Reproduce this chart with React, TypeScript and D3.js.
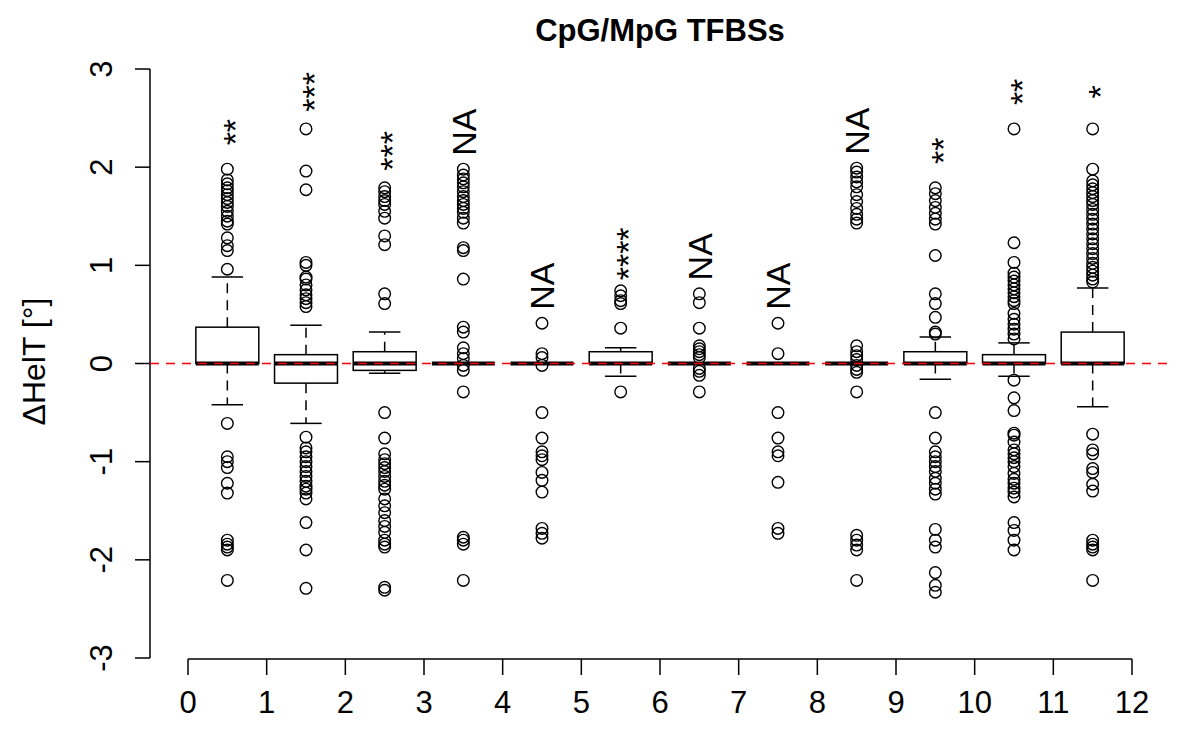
import React from "react";
import * as d3 from "d3";

// ---- data ----
const groupPositions = [0.5, 1.5, 2.5, 3.5, 4.5, 5.5, 6.5, 7.5, 8.5, 9.5, 10.5, 11.5];
const whiskerLow = [-0.42, -0.61, -0.10, 0, 0, -0.13, 0, 0, 0, -0.16, -0.13, -0.44];
const q1Values = [0, -0.2, -0.07, 0, 0, 0, 0, 0, 0, 0, 0, 0];
const medianValues = [0, 0, 0, 0, 0, 0, 0, 0, 0, 0, 0, 0];
const q3Values = [0.37, 0.09, 0.12, 0, 0, 0.12, 0, 0, 0, 0.12, 0.09, 0.32];
const whiskerHigh = [0.88, 0.39, 0.32, 0, 0, 0.16, 0, 0, 0, 0.27, 0.21, 0.77];
const outliers: number[][] = [
  [1.98, 1.87, 1.83, 1.79, 1.76, 1.72, 1.68, 1.64, 1.60, 1.55, 1.50, 1.45, 1.42, 1.28, 1.20, 1.15, 0.96,
   -0.61, -0.95, -1.0, -1.06, -1.22, -1.32, -1.80, -1.84, -1.87, -1.90, -2.21],
  [2.39, 1.96, 1.77, 1.03, 1.00, 0.88, 0.86, 0.80, 0.75, 0.70, 0.66, 0.62, 0.58,
   -0.75, -0.86, -0.90, -0.95, -1.0, -1.05, -1.10, -1.15, -1.20, -1.25, -1.28, -1.32, -1.38, -1.62, -1.90, -2.29],
  [1.79, 1.75, 1.70, 1.66, 1.62, 1.55, 1.48, 1.30, 1.21, 0.71, 0.61,
   -0.50, -0.76, -0.92, -0.98, -1.02, -1.06, -1.10, -1.15, -1.20, -1.24, -1.28, -1.38, -1.45, -1.52, -1.60, -1.66,
   -1.72, -1.80, -1.84, -1.87, -2.28, -2.31],
  [1.98, 1.92, 1.88, 1.84, 1.80, 1.75, 1.70, 1.66, 1.62, 1.58, 1.54, 1.48, 1.43, 1.18, 1.15, 0.86, 0.37, 0.32,
   0.16, 0.10, 0.05, -0.02, -0.07, -0.29, -1.77, -1.80, -1.84, -2.21],
  [0.41, 0.10, 0.06, -0.02, -0.50, -0.76, -0.90, -0.94, -0.98, -1.11, -1.19, -1.31, -1.68, -1.73, -1.78],
  [0.74, 0.69, 0.64, 0.61, 0.36, -0.29],
  [0.71, 0.62, 0.36, 0.18, 0.15, 0.12, 0.09, 0.06, -0.05, -0.08, -0.12, -0.29],
  [0.41, 0.10, -0.50, -0.76, -0.90, -0.94, -1.21, -1.68, -1.73],
  [1.99, 1.95, 1.90, 1.85, 1.80, 1.72, 1.65, 1.58, 1.52, 1.47, 1.43, 0.18, 0.12, 0.08, 0.04, -0.02, -0.06,
   -0.09, -0.29, -1.75, -1.80, -1.85, -1.90, -2.21],
  [1.79, 1.73, 1.66, 1.59, 1.53, 1.47, 1.42, 1.10, 0.71, 0.61, 0.47, 0.32, 0.30,
   -0.50, -0.76, -0.90, -0.95, -1.00, -1.05, -1.10, -1.17, -1.22, -1.28, -1.33, -1.69, -1.80, -1.87, -2.13,
   -2.26, -2.33],
  [2.39, 1.23, 1.03, 0.92, 0.88, 0.84, 0.80, 0.76, 0.72, 0.68, 0.64, 0.61, 0.51, 0.45, 0.40, 0.35, 0.30, 0.25,
   -0.17, -0.35, -0.48, -0.71, -0.73, -0.80, -0.88, -0.92, -0.96, -1.00, -1.05, -1.12, -1.18, -1.22, -1.27,
   -1.31, -1.36, -1.62, -1.70, -1.80, -1.90],
  [2.39, 1.98, 1.86, 1.82, 1.78, 1.74, 1.70, 1.66, 1.62, 1.57, 1.52, 1.47, 1.42, 1.37, 1.32, 1.27, 1.22, 1.17,
   1.12, 1.07, 1.02, 0.98, 0.94, 0.90, 0.86, 0.83,
   -0.72, -0.88, -0.92, -1.07, -1.11, -1.23, -1.30, -1.80, -1.84, -1.87, -1.90, -2.21],
];
const annotations = ["**", "***", "***", "NA", "NA", "****", "NA", "NA", "NA", "**", "**", "*"];
const xTicks = [0, 1, 2, 3, 4, 5, 6, 7, 8, 9, 10, 11, 12];
const yTicks = [-3, -2, -1, 0, 1, 2, 3];
const titleText = "CpG/MpG TFBSs";
const yLabel = "ΔHelT [°]";

// ---- layout ----
const W = 1200;
const H = 750;
const FONT = "'Liberation Sans', Arial, Helvetica, sans-serif";

export default function App() {
  const x = d3.scaleLinear().domain([0, 12]).range([188, 1132]);
  const y = d3.scaleLinear().domain([-3, 3]).range([658, 69]);
  const plotLeft = 150;
  const plotRight = 1170;
  const axisY = 659;
  const boxHalf = (x(0.4) - x(0));
  const capHalf = (x(0.2) - x(0));

  return (
    <svg width={W} height={H} style={{ position: "absolute", left: 0, top: 0, background: "#fff" }}
      fontFamily={FONT}>
      <rect width={W} height={H} fill="#fff" />
      {/* title */}
      <text x={(plotLeft + plotRight) / 2} y={41} textAnchor="middle" fontWeight="bold" fontSize={31}>
        {titleText}
      </text>

      {/* y axis */}
      <line x1={plotLeft} x2={plotLeft} y1={y(-3)} y2={y(3)} stroke="#000" strokeWidth={1.5} />
      {yTicks.map((t) => (
        <g key={"yt" + t}>
          <line x1={plotLeft - 15} x2={plotLeft} y1={y(t)} y2={y(t)} stroke="#000" strokeWidth={1.5} />
          <text transform={`translate(${112},${y(t)}) rotate(-90)`} textAnchor="middle" fontSize={31}>
            {t}
          </text>
        </g>
      ))}
      <text transform={`translate(45,${y(0) - 2}) rotate(-90)`} textAnchor="middle" fontSize={32}>
        {yLabel}
      </text>

      {/* x axis */}
      <line x1={x(0)} x2={x(12)} y1={axisY} y2={axisY} stroke="#000" strokeWidth={1.5} />
      {xTicks.map((t) => (
        <g key={"xt" + t}>
          <line x1={x(t)} x2={x(t)} y1={axisY} y2={axisY + 16} stroke="#000" strokeWidth={1.5} />
          <text x={x(t)} y={713} textAnchor="middle" fontSize={31}>
            {t}
          </text>
        </g>
      ))}

      {/* boxes */}
      {groupPositions.map((p, i) => {
        const cx = x(p);
        return (
          <g key={"b" + i}>
            <line x1={cx} x2={cx} y1={y(q3Values[i])} y2={y(whiskerHigh[i])} stroke="#000"
              strokeWidth={1.5} strokeDasharray="10,7" />
            <line x1={cx} x2={cx} y1={y(q1Values[i])} y2={y(whiskerLow[i])} stroke="#000"
              strokeWidth={1.5} strokeDasharray="10,7" />
            <line x1={cx - capHalf} x2={cx + capHalf} y1={y(whiskerHigh[i])} y2={y(whiskerHigh[i])}
              stroke="#000" strokeWidth={1.5} />
            <line x1={cx - capHalf} x2={cx + capHalf} y1={y(whiskerLow[i])} y2={y(whiskerLow[i])}
              stroke="#000" strokeWidth={1.5} />
            <rect x={cx - boxHalf} width={2 * boxHalf} y={y(q3Values[i])}
              height={Math.max(0, y(q1Values[i]) - y(q3Values[i]))} fill="#fff" stroke="#000" strokeWidth={1.5} />
            <line x1={cx - boxHalf} x2={cx + boxHalf} y1={y(medianValues[i])} y2={y(medianValues[i])}
              stroke="#000" strokeWidth={4} />
            {outliers[i].map((v, j) => (
              <circle key={j} cx={cx} cy={y(v)} r={5.8} fill="none" stroke="#000" strokeWidth={1.4} />
            ))}
          </g>
        );
      })}

      {/* reference line */}
      <line x1={plotLeft} x2={plotRight} y1={y(0)} y2={y(0)} stroke="#ff0000" strokeWidth={1.5}
        strokeDasharray="9,7" />

      {/* annotations */}
      {groupPositions.map((p, i) => {
        const mx = d3.max(outliers[i].concat([whiskerHigh[i]])) as number;
        const isNA = annotations[i] === "NA";
        const cy = y(mx) - 37;
        return (
          <text key={"a" + i} transform={`translate(${x(p)},${cy}) rotate(-90)`} textAnchor="middle"
            fontSize={34} dy={isNA ? "0.36em" : "0.58em"}>
            {annotations[i]}
          </text>
        );
      })}
    </svg>
  );
}
